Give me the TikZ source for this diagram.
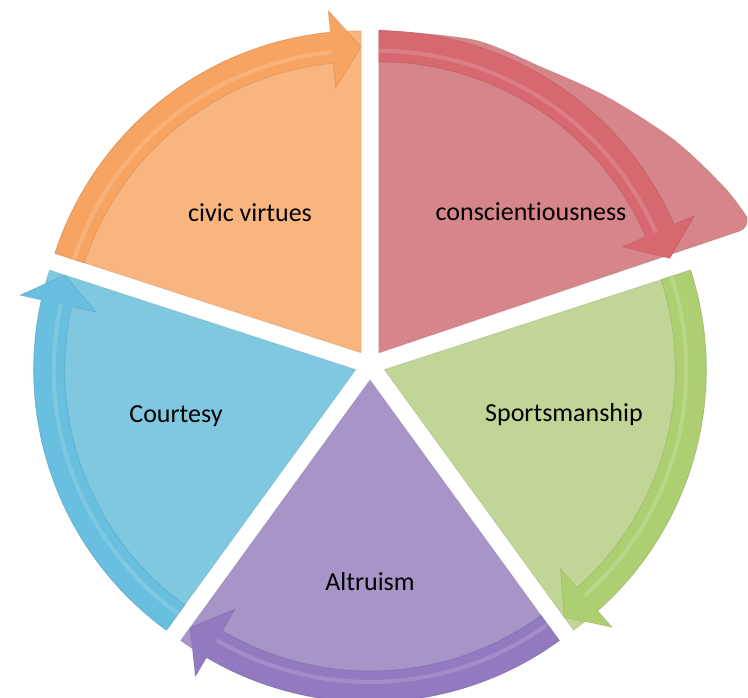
\documentclass[tikz,border=0pt]{standalone}
\usepackage{fontspec}
\setmainfont{Carlito}[Ligatures=NoCommon]
\definecolor{orbody}{HTML}{F9B580}
\definecolor{orband}{HTML}{F6A05A}
\definecolor{rdbody}{HTML}{D6868A}
\definecolor{rdband}{HTML}{D8606A}
\definecolor{grbody}{HTML}{C1D597}
\definecolor{grband}{HTML}{A9CD68}
\definecolor{pubody}{HTML}{A895C8}
\definecolor{puband}{HTML}{8C73BF}
\definecolor{blbody}{HTML}{80C8E0}
\definecolor{blband}{HTML}{62BDE0}
\tikzset{
  lbl/.style={anchor=base, font=\fontsize{26}{31}\selectfont, text=black, inner sep=0pt},
}
\newcommand\segbody[2]{%
  \begin{scope}[shift={(#1:15)}]
    \pgfmathsetmacro\segA{#1-36}\pgfmathsetmacro\segB{#1+36}
    \fill[#2] (0,0) -- (\segA:322) arc[start angle=\segA, end angle=\segB, radius=322] -- cycle;
    \draw[#2!80!black, opacity=0.3, line width=1pt] (0,0) -- (\segA:322) arc[start angle=\segA, end angle=\segB, radius=322] -- cycle;
  \end{scope}}
\newcommand\segarrow[3]{%
  \begin{scope}[shift={(#1:15)}]
    \pgfmathsetmacro\segA{#1-36}\pgfmathsetmacro\segB{#1+36}\pgfmathsetmacro\segH{#1-36+5.5}
    \fill[#2!80!#3] (\segB:322) arc[start angle=\segB, end angle=\segH, radius=322] -- (\segH:344) -- (\segA:306) -- (\segH:266) -- (\segH:291) arc[start angle=\segH, end angle=\segB, radius=291] -- cycle;
    \draw[#2!75!black, opacity=0.3, line width=0.8pt] (\segB:322) arc[start angle=\segB, end angle=\segH, radius=322] -- (\segH:344) -- (\segA:306) -- (\segH:266) -- (\segH:291) arc[start angle=\segH, end angle=\segB, radius=291] -- cycle;
    \draw[white, opacity=0.15, line width=4pt] (\segB:302) arc[start angle=\segB, end angle=\segH, radius=302];
  \end{scope}}
\begin{document}
\begin{tikzpicture}[x=1pt,y=1pt]
\useasboundingbox (0,0) rectangle (748,698);
\begin{scope}[shift={(370,333)}]
  % red (enlarged) body
  \fill[rdbody] (8.8,12.1) -- plot[smooth] coordinates {(8.8,335) (104,325) (171,298) (237,268) (304,225) (354,178) (377,148)} to[out=-80,in=20] (370,134) -- cycle;
  \draw[rdbody!80!black, opacity=0.3, line width=1pt] (8.8,12.1) -- plot[smooth] coordinates {(8.8,335) (104,325) (171,298) (237,268) (304,225) (354,178) (377,148)} to[out=-80,in=20] (370,134) -- cycle;
  \segarrow{54}{rdband}{rdbody}
  % other segments
  \segbody{126}{orbody}\segarrow{126}{orband}{orbody}
  \segbody{198}{blbody}\segarrow{198}{blband}{blbody}
  \segbody{270}{pubody}\segarrow{270}{puband}{pubody}
  \segbody{342}{grbody}\segarrow{342}{grband}{grbody}
  \node[lbl] (civ) at (-120,143) {civic virtues};
  \node[lbl] (con) at (161,144) {conscientiousness};
  \node[lbl] (spo) at (194,-57) {Sportsmanship};
  \node[lbl] (cou) at (-194,-58) {Courtesy};
  \node[lbl] (alt) at (0,-226) {Altruism};
\end{scope}
\end{tikzpicture}
\end{document}
